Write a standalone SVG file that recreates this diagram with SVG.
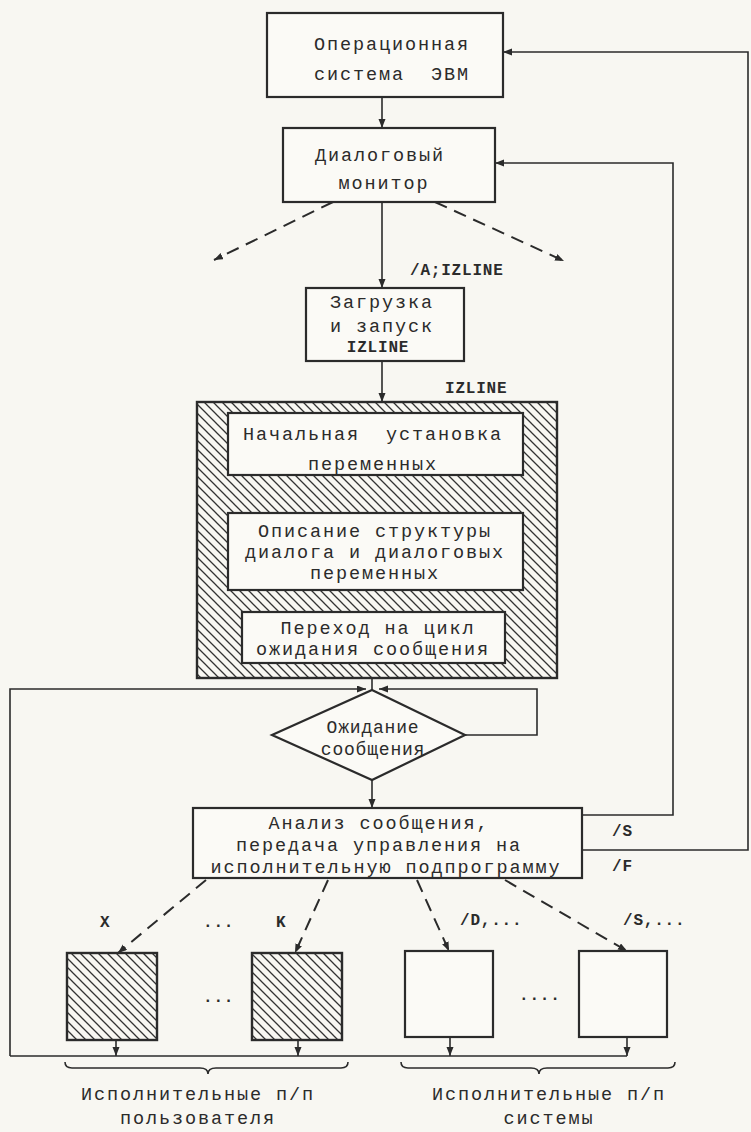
<svg xmlns="http://www.w3.org/2000/svg" width="751" height="1132" viewBox="0 0 751 1132">
<defs>
<pattern id="hatch" patternUnits="userSpaceOnUse" width="9" height="9">
<path d="M0,0 L9,9 M-2,7 L2,11 M7,-2 L11,2" stroke="#333" stroke-width="1.3"/>
</pattern>
<marker id="arr" markerUnits="userSpaceOnUse" markerWidth="10" markerHeight="8" refX="9" refY="3.5" orient="auto">
<path d="M0,0 L9,3.5 L0,7 z" fill="#2b2b2b"/>
</marker>
<style>
.bx{fill:#fbfaf6;stroke:#2b2b2b;stroke-width:2.2}
.hb{fill:url(#hatch);stroke:#2b2b2b;stroke-width:2.4}
.ln{fill:none;stroke:#2b2b2b;stroke-width:1.6}
.ds{fill:none;stroke:#2b2b2b;stroke-width:2;stroke-dasharray:13 8}
.t{font-family:"Liberation Mono","DejaVu Sans Mono",monospace;font-size:18.5px;letter-spacing:1.9px;fill:#2b2b2b;text-anchor:middle}
.td{font-family:"Liberation Mono","DejaVu Sans Mono",monospace;font-size:18px;letter-spacing:0.8px;fill:#2b2b2b;text-anchor:middle}
.lb{font-family:"Liberation Mono","DejaVu Sans Mono",monospace;font-size:16px;font-weight:bold;fill:#2b2b2b;letter-spacing:0.8px}
</style>
</defs>
<rect x="0" y="0" width="751" height="1132" fill="#f8f7f2"/>

<g id="connectors">
<line class="ln" x1="382" y1="97" x2="382" y2="128" marker-end="url(#arr)"/>
<line class="ln" x1="382" y1="202" x2="382" y2="288" marker-end="url(#arr)"/>
<line class="ln" x1="382" y1="361" x2="382" y2="402" marker-end="url(#arr)"/>
<line class="ds" x1="333" y1="202" x2="214" y2="260" marker-end="url(#arr)"/>
<line class="ds" x1="435" y1="202" x2="564" y2="261" marker-end="url(#arr)"/>
<line class="ln" x1="372" y1="678" x2="372" y2="690"/>
<polyline class="ln" points="10,1056 10,689 366,689" marker-end="url(#arr)"/>
<polyline class="ln" points="465,735 537,735 537,689 379,689" marker-end="url(#arr)"/>
<line class="ln" x1="372" y1="780" x2="372" y2="808" marker-end="url(#arr)"/>
<polyline class="ln" points="582,815 673,815 673,163 495,163" marker-end="url(#arr)"/>
<polyline class="ln" points="582,850 748,850 748,52 503,52" marker-end="url(#arr)"/>
<line class="ds" x1="206" y1="880" x2="118" y2="953" marker-end="url(#arr)"/>
<line class="ds" x1="328" y1="880" x2="295" y2="953" marker-end="url(#arr)"/>
<line class="ds" x1="417" y1="880" x2="449" y2="951" marker-end="url(#arr)"/>
<line class="ds" x1="505" y1="880" x2="627" y2="951" marker-end="url(#arr)"/>
<line class="ln" x1="116" y1="1040" x2="116" y2="1056" marker-end="url(#arr)"/>
<line class="ln" x1="298" y1="1040" x2="298" y2="1056" marker-end="url(#arr)"/>
<line class="ln" x1="450" y1="1037" x2="450" y2="1056" marker-end="url(#arr)"/>
<line class="ln" x1="627" y1="1037" x2="627" y2="1056" marker-end="url(#arr)"/>
<line class="ln" x1="10" y1="1056" x2="627" y2="1056"/>
<path class="ln" d="M65,1062 Q65,1068 72,1068 L200,1068 Q208,1068 208,1074 Q208,1068 216,1068 L341,1068 Q348,1068 348,1062"/>
<path class="ln" d="M401,1062 Q401,1068 408,1068 L531,1068 Q539,1068 539,1074 Q539,1068 547,1068 L668,1068 Q675,1068 675,1062"/>
</g>

<g id="labels">
<text class="lb" x="410" y="275">/A;IZLINE</text>
<text class="lb" x="445" y="393">IZLINE</text>
<text class="lb" x="612" y="836">/S</text>
<text class="lb" x="612" y="871">/F</text>
<text class="lb" x="100" y="927">X</text>
<text class="lb" x="203" y="927">...</text>
<text class="lb" x="276" y="927">K</text>
<text class="lb" x="460" y="925">/D,...</text>
<text class="lb" x="623" y="925">/S,...</text>
<text class="lb" x="203" y="1002">...</text>
<text class="lb" x="519" y="1000">....</text>
</g>

<g id="os">
<rect class="bx" x="267" y="13" width="236" height="84"/>
<text class="t" x="392" y="50">Операционная</text>
<text class="t" x="392" y="80" xml:space="preserve">система  ЭВМ</text>
</g>

<g id="monitor">
<rect class="bx" x="283" y="128" width="212" height="74"/>
<text class="t" x="380" y="161">Диалоговый</text>
<text class="t" x="384" y="189">монитор</text>
</g>

<g id="load">
<rect class="bx" x="306" y="288" width="158" height="73"/>
<text class="t" x="382" y="308">Загрузка</text>
<text class="t" x="382" y="332">и запуск</text>
<text class="lb" x="378" y="352" style="text-anchor:middle">IZLINE</text>
</g>

<g id="izline">
<rect class="hb" x="197" y="402" width="360" height="276"/>
<g id="init">
<rect class="bx" x="228" y="413" width="295" height="62"/>
<text class="t" x="373" y="440" xml:space="preserve">Начальная  установка</text>
<text class="t" x="373" y="470">переменных</text>
</g>
<g id="struct">
<rect class="bx" x="228" y="513" width="295" height="77"/>
<text class="t" x="375" y="537">Описание структуры</text>
<text class="t" x="375" y="558">диалога и диалоговых</text>
<text class="t" x="375" y="579">переменных</text>
</g>
<g id="goto">
<rect class="bx" x="242" y="612" width="263" height="51"/>
<text class="t" x="378" y="634">Переход на цикл</text>
<text class="t" x="373" y="655">ожидания сообщения</text>
</g>
</g>

<g id="wait">
<polygon class="bx" points="372,690 465,735 372,780 272,735"/>
<text class="td" x="373" y="733">Ожидание</text>
<text class="td" x="373" y="755">сообщения</text>
</g>

<g id="analysis">
<rect class="bx" x="193" y="808" width="389" height="70"/>
<text class="t" x="379" y="829">Анализ сообщения,</text>
<text class="t" x="379" y="851">передача управления на</text>
<text class="t" x="386" y="873">исполнительную подпрограмму</text>
</g>

<g id="user1"><rect class="hb" x="67" y="953" width="90" height="87"/></g>
<g id="user2"><rect class="hb" x="252" y="953" width="90" height="87"/></g>
<g id="sys1"><rect class="bx" x="405" y="951" width="88" height="86"/></g>
<g id="sys2"><rect class="bx" x="579" y="951" width="88" height="86"/></g>

<g id="user-caption">
<text class="t" x="198" y="1100">Исполнительные п/п</text>
<text class="t" x="198" y="1124">пользователя</text>
</g>
<g id="sys-caption">
<text class="t" x="549" y="1100">Исполнительные п/п</text>
<text class="t" x="549" y="1124">системы</text>
</g>
</svg>
